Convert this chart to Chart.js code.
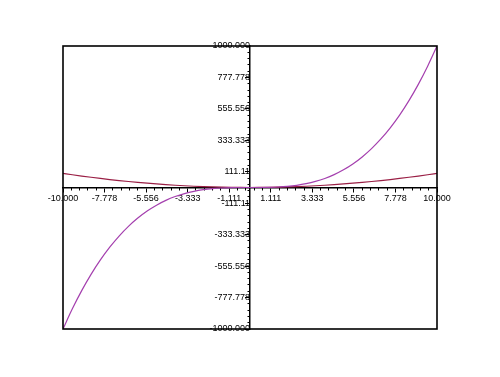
<!DOCTYPE html>
<html>
<head>
<meta charset="utf-8">
<script src="https://cdn.jsdelivr.net/npm/chart.js@4/dist/chart.umd.min.js"></script>
<style>
  html, body { margin: 0; padding: 0; background: #fff; }
  #wrap { width: 500px; height: 377px; }
</style>
</head>
<body>
<div id="wrap"><canvas id="grafico" width="500" height="377"></canvas></div>
<script>
// valores de x muestreados
const xValores = [-10, -9.5, -9, -8.5, -8, -7.5, -7, -6.5, -6, -5.5, -5, -4.5, -4, -3.5, -3, -2.5, -2, -1.5, -1, -0.5,
  0, 0.5, 1, 1.5, 2, 2.5, 3, 3.5, 4, 4.5, 5, 5.5, 6, 6.5, 7, 7.5, 8, 8.5, 9, 9.5, 10];

// curva cúbica (violeta)
const serieCubica = [-1000, -857.4, -729, -614.1, -512, -421.9, -343, -274.6, -216, -166.4, -125, -91.1, -64, -42.9, -27, -15.6, -8, -3.4, -1, -0.1,
  0, 0.1, 1, 3.4, 8, 15.6, 27, 42.9, 64, 91.1, 125, 166.4, 216, 274.6, 343, 421.9, 512, 614.1, 729, 857.4, 1000];

// curva cuadrática (roja)
const serieCuadratica = [100, 90.3, 81, 72.3, 64, 56.3, 49, 42.3, 36, 30.3, 25, 20.3, 16, 12.3, 9, 6.3, 4, 2.3, 1, 0.3,
  0, 0.3, 1, 2.3, 4, 6.3, 9, 12.3, 16, 20.3, 25, 30.3, 36, 42.3, 49, 56.3, 64, 72.3, 81, 90.3, 100];

// marcas de los ejes
const xMarcas = [-10, -7.778, -5.556, -3.333, -1.111, 1.111, 3.333, 5.556, 7.778, 10];
const xEtiquetas = ['-10.000', '-7.778', '-5.556', '-3.333', '-1.111', '1.111', '3.333', '5.556', '7.778', '10.000'];
const yMarcas = [-1000, -777.778, -555.556, -333.333, -111.111, 111.111, 333.333, 555.556, 777.778, 1000];
const yEtiquetas = ['-1000.000', '-777.778', '-555.556', '-333.333', '-111.11', '111.11', '333.333', '555.556', '777.778', '1000.000'];

// marcas menores: 4 entre cada par de marcas mayores
function menores(marcas) {
  const res = [];
  for (let i = 0; i < marcas.length - 1; i++) {
    const paso = (marcas[i + 1] - marcas[i]) / 5;
    for (let k = 1; k < 5; k++) res.push(marcas[i] + paso * k);
  }
  return res;
}

const fuente = { family: '"Liberation Sans", Arial, sans-serif', size: 9 };

// recuadro exterior del gráfico
const marco = {
  id: 'marco',
  afterDraw(chart) {
    const a = chart.chartArea;
    const ctx = chart.ctx;
    ctx.save();
    ctx.strokeStyle = '#000';
    ctx.lineWidth = 1.6;
    ctx.strokeRect(a.left, a.top, a.right - a.left, a.bottom - a.top);
    ctx.restore();
  }
};

new Chart(document.getElementById('grafico'), {
  type: 'scatter',
  data: {
    datasets: [{
      data: xValores.map((x, i) => ({ x: x, y: serieCubica[i] })),
      showLine: true,
      borderColor: '#a43fae',
      borderWidth: 1.2,
      pointRadius: 0,
      cubicInterpolationMode: 'monotone'
    }, {
      data: xValores.map((x, i) => ({ x: x, y: serieCuadratica[i] })),
      showLine: true,
      borderColor: '#9a1f45',
      borderWidth: 1.2,
      pointRadius: 0,
      cubicInterpolationMode: 'monotone'
    }]
  },
  options: {
    responsive: false,
    animation: false,
    layout: { padding: { left: 63, right: 63, top: 46, bottom: 48 } },
    plugins: { legend: { display: false }, tooltip: { enabled: false } },
    scales: {
      x: {
        type: 'linear', min: -10, max: 10,
        position: { y: 0 },
        afterBuildTicks: s => { s.ticks = xMarcas.map(v => ({ value: v })); },
        ticks: {
          autoSkip: false, maxRotation: 0, padding: 2, color: '#000', font: fuente,
          callback: (v, i) => xEtiquetas[i]
        },
        grid: { drawOnChartArea: false, drawTicks: true, tickLength: 4, color: '#000' },
        border: { display: true, color: '#000', width: 1.5 }
      },
      xMenor: {
        type: 'linear', axis: 'x', min: -10, max: 10,
        position: { y: 0 },
        afterBuildTicks: s => { s.ticks = menores(xMarcas).map(v => ({ value: v })); },
        ticks: { display: false },
        grid: { drawOnChartArea: false, drawTicks: true, tickLength: 2.5, color: '#000' },
        border: { display: false }
      },
      y: {
        type: 'linear', min: -1000, max: 1000,
        position: { x: 0 },
        afterBuildTicks: s => { s.ticks = yMarcas.map(v => ({ value: v })); },
        ticks: {
          autoSkip: false, padding: -5, color: '#000', font: fuente,
          callback: (v, i) => yEtiquetas[i]
        },
        grid: { drawOnChartArea: false, drawTicks: true, tickLength: 4, color: '#000' },
        border: { display: true, color: '#000', width: 1.5 }
      },
      yMenor: {
        type: 'linear', axis: 'y', min: -1000, max: 1000,
        position: { x: 0 },
        afterBuildTicks: s => { s.ticks = menores(yMarcas).map(v => ({ value: v })); },
        ticks: { display: false },
        grid: { drawOnChartArea: false, drawTicks: true, tickLength: 2.5, color: '#000' },
        border: { display: false }
      }
    }
  },
  plugins: [marco]
});
</script>
</body>
</html>
